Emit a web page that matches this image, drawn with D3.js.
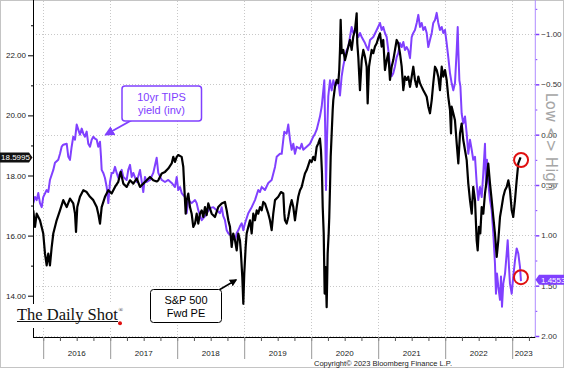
<!DOCTYPE html>
<html><head><meta charset="utf-8">
<script src="https://cdn.jsdelivr.net/npm/d3@7"></script>
<style>body{margin:0;background:#fff}svg{display:block}</style>
</head><body><svg id="c" width="564" height="368"></svg>
<script>
// ---- data (decimal years) ----
const peDates = [2015.852,2015.878,2015.903,2015.952,2016.001,2016.027,2016.052,2016.076,2016.101,2016.127,2016.151,2016.201,2016.251,2016.300,2016.351,2016.400,2016.449,2016.475,2016.490,2016.509,2016.549,2016.599,2016.649,2016.699,2016.748,2016.799,2016.822,2016.848,2016.873,2016.922,2016.972,2017.022,2017.072,2017.121,2017.157,2017.196,2017.246,2017.296,2017.345,2017.396,2017.445,2017.494,2017.545,2017.594,2017.643,2017.694,2017.718,2017.769,2017.818,2017.867,2017.918,2017.942,2017.967,2017.993,2018.016,2018.067,2018.091,2018.106,2018.127,2018.142,2018.166,2018.191,2018.216,2018.240,2018.266,2018.291,2018.315,2018.340,2018.366,2018.390,2018.415,2018.440,2018.464,2018.515,2018.564,2018.613,2018.664,2018.713,2018.739,2018.763,2018.788,2018.813,2018.837,2018.863,2018.888,2018.912,2018.937,2018.952,2018.972,2018.987,2019.001,2019.022,2019.037,2019.061,2019.087,2019.112,2019.136,2019.161,2019.187,2019.210,2019.236,2019.261,2019.285,2019.310,2019.360,2019.385,2019.410,2019.434,2019.460,2019.509,2019.549,2019.584,2019.599,2019.609,2019.634,2019.658,2019.684,2019.709,2019.733,2019.758,2019.784,2019.807,2019.833,2019.858,2019.882,2019.907,2019.933,2019.957,2019.982,2020.007,2020.031,2020.057,2020.082,2020.106,2020.131,2020.146,2020.161,2020.172,2020.187,2020.201,2020.216,2020.231,2020.246,2020.261,2020.270,2020.281,2020.291,2020.306,2020.321,2020.330,2020.355,2020.381,2020.404,2020.419,2020.430,2020.440,2020.455,2020.479,2020.504,2020.530,2020.554,2020.579,2020.604,2020.628,2020.654,2020.679,2020.688,2020.703,2020.728,2020.754,2020.778,2020.803,2020.828,2020.843,2020.863,2020.878,2020.903,2020.927,2020.952,2020.978,2021.001,2021.027,2021.052,2021.076,2021.101,2021.127,2021.151,2021.176,2021.201,2021.225,2021.251,2021.276,2021.300,2021.325,2021.351,2021.375,2021.400,2021.425,2021.449,2021.475,2021.500,2021.524,2021.549,2021.575,2021.599,2021.624,2021.649,2021.673,2021.699,2021.724,2021.748,2021.773,2021.799,2021.822,2021.848,2021.873,2021.897,2021.922,2021.948,2021.972,2021.997,2022.022,2022.046,2022.072,2022.087,2022.097,2022.121,2022.146,2022.172,2022.196,2022.221,2022.246,2022.270,2022.296,2022.321,2022.345,2022.370,2022.396,2022.419,2022.445,2022.470,2022.485,2022.504,2022.524,2022.545,2022.569,2022.594,2022.619,2022.643,2022.669,2022.694,2022.718,2022.743,2022.769,2022.793,2022.818,2022.843,2022.867,2022.893,2022.918,2022.943,2022.967,2022.993,2023.016,2023.042,2023.067,2023.091,2023.125];
const peValues = [16.84,16.29,16.73,16.51,16.07,15.40,15.01,15.40,15.01,15.62,16.07,16.51,16.84,17.18,16.95,17.23,17.07,16.73,16.12,16.95,17.29,17.51,17.45,17.29,17.18,16.95,16.73,16.40,16.95,17.29,17.51,17.40,17.62,17.79,18.12,17.73,17.62,17.84,17.73,17.90,17.62,17.73,17.84,17.95,17.84,17.80,17.84,18.07,18.12,18.23,18.40,18.62,18.45,18.62,18.68,18.62,18.29,17.62,16.73,17.18,17.40,16.95,16.73,16.29,16.40,16.73,16.40,16.73,16.84,16.62,16.95,16.68,17.07,16.73,16.62,16.95,17.07,17.12,16.84,16.51,16.29,15.62,16.07,15.84,15.51,16.07,15.84,15.40,14.62,13.73,14.73,15.62,16.07,16.29,16.51,16.07,16.73,16.51,16.84,16.73,16.95,16.84,17.12,17.07,16.73,16.51,16.18,16.73,17.18,17.29,17.45,17.40,16.73,16.51,16.40,16.62,16.95,17.18,16.95,16.51,16.95,17.29,17.51,17.62,17.84,18.07,18.18,18.34,18.51,18.45,18.62,18.51,18.95,19.07,19.23,18.84,18.07,16.95,16.07,14.07,14.95,13.62,15.40,16.07,16.62,17.62,18.62,19.40,20.18,20.51,20.95,21.18,21.07,21.51,22.18,23.18,22.07,22.18,21.84,22.07,22.29,22.51,22.18,22.62,22.84,23.40,22.40,21.95,20.84,21.84,22.18,21.95,21.62,20.40,21.62,21.84,22.18,22.07,22.29,22.40,22.57,22.73,22.29,22.51,21.51,21.84,22.07,21.18,21.62,21.84,22.18,22.51,22.40,22.07,21.62,20.84,21.29,21.18,21.29,20.95,21.29,21.62,21.18,20.95,21.29,21.07,20.95,20.84,20.73,20.62,20.29,20.07,20.51,21.07,21.62,21.51,21.29,20.84,21.62,21.29,21.51,21.18,20.62,20.18,19.40,20.29,20.07,19.84,19.07,18.40,19.40,19.73,19.18,18.84,18.51,17.73,17.18,16.73,17.62,17.18,15.84,15.51,16.29,16.07,16.95,16.73,17.40,17.84,18.40,17.73,17.18,16.62,16.07,15.29,15.84,16.62,16.95,17.29,17.51,17.62,17.84,17.51,16.84,16.62,17.18,17.84,18.40,18.60];

const tipsDates = [2015.852,2015.878,2015.903,2015.927,2015.952,2015.978,2016.001,2016.052,2016.076,2016.101,2016.151,2016.176,2016.225,2016.251,2016.276,2016.300,2016.351,2016.375,2016.400,2016.425,2016.449,2016.475,2016.500,2016.524,2016.549,2016.575,2016.599,2016.624,2016.649,2016.673,2016.699,2016.724,2016.748,2016.773,2016.799,2016.822,2016.848,2016.863,2016.873,2016.897,2016.922,2016.948,2016.972,2016.997,2017.022,2017.046,2017.072,2017.097,2017.121,2017.146,2017.172,2017.196,2017.246,2017.270,2017.296,2017.321,2017.345,2017.396,2017.445,2017.494,2017.519,2017.545,2017.594,2017.643,2017.694,2017.718,2017.769,2017.818,2017.867,2017.918,2017.967,2017.993,2018.016,2018.042,2018.067,2018.116,2018.142,2018.166,2018.216,2018.266,2018.291,2018.315,2018.366,2018.415,2018.440,2018.490,2018.539,2018.590,2018.639,2018.664,2018.688,2018.713,2018.739,2018.763,2018.813,2018.863,2018.888,2018.912,2018.937,2018.963,2018.987,2019.012,2019.061,2019.112,2019.161,2019.210,2019.236,2019.261,2019.310,2019.360,2019.410,2019.460,2019.485,2019.534,2019.560,2019.584,2019.599,2019.634,2019.658,2019.684,2019.709,2019.733,2019.758,2019.784,2019.833,2019.858,2019.882,2019.933,2019.982,2020.031,2020.057,2020.082,2020.131,2020.157,2020.181,2020.196,2020.210,2020.221,2020.236,2020.255,2020.281,2020.306,2020.330,2020.355,2020.381,2020.404,2020.430,2020.455,2020.479,2020.504,2020.530,2020.554,2020.579,2020.604,2020.628,2020.654,2020.679,2020.703,2020.728,2020.754,2020.778,2020.803,2020.828,2020.852,2020.878,2020.927,2020.978,2021.027,2021.052,2021.076,2021.101,2021.127,2021.151,2021.176,2021.201,2021.225,2021.251,2021.276,2021.300,2021.325,2021.351,2021.375,2021.400,2021.425,2021.449,2021.475,2021.500,2021.524,2021.549,2021.575,2021.599,2021.624,2021.649,2021.673,2021.699,2021.724,2021.748,2021.773,2021.799,2021.822,2021.848,2021.873,2021.897,2021.922,2021.948,2021.972,2021.997,2022.022,2022.046,2022.072,2022.097,2022.121,2022.146,2022.172,2022.187,2022.196,2022.212,2022.227,2022.246,2022.270,2022.296,2022.321,2022.345,2022.370,2022.396,2022.419,2022.445,2022.470,2022.494,2022.519,2022.545,2022.569,2022.594,2022.609,2022.624,2022.643,2022.669,2022.694,2022.718,2022.743,2022.758,2022.773,2022.793,2022.818,2022.833,2022.848,2022.867,2022.893,2022.918,2022.933,2022.952,2022.967,2022.993,2023.016,2023.042,2023.067,2023.091,2023.116,2023.131];
const tipsValues = [0.68,0.62,0.65,0.58,0.68,0.72,0.62,0.55,0.57,0.45,0.35,0.28,0.25,0.19,0.12,0.10,0.09,0.22,0.25,0.12,0.02,0.05,-0.10,-0.05,0.00,-0.06,-0.01,0.02,-0.03,0.09,0.12,0.05,0.02,0.04,0.05,0.12,0.07,0.22,0.35,0.38,0.43,0.52,0.68,0.47,0.38,0.38,0.32,0.38,0.43,0.38,0.35,0.42,0.45,0.35,0.30,0.42,0.38,0.47,0.35,0.57,0.42,0.47,0.45,0.38,0.23,0.38,0.45,0.47,0.45,0.48,0.52,0.42,0.55,0.52,0.58,0.62,0.78,0.65,0.68,0.65,0.68,0.75,0.85,0.81,0.78,0.73,0.72,0.75,0.78,0.72,0.81,0.85,0.95,0.98,1.01,1.05,0.98,0.95,0.91,0.88,0.95,0.88,0.78,0.72,0.65,0.55,0.57,0.52,0.55,0.48,0.45,0.32,0.22,0.19,0.19,0.05,-0.03,-0.01,-0.10,0.05,0.15,0.09,0.19,0.12,0.14,0.09,0.15,0.12,0.09,0.02,-0.01,-0.05,-0.18,-0.28,-0.44,-0.54,-0.01,0.55,0.05,-0.38,-0.54,-0.44,-0.54,-0.48,-0.51,-0.54,-0.39,-0.58,-0.68,-0.77,-0.84,-0.87,-0.97,-1.07,-1.01,-1.04,-1.01,-0.97,-1.01,-0.97,-0.94,-0.91,-0.87,-0.84,-0.94,-0.97,-1.04,-1.11,-1.04,-1.07,-1.01,-0.97,-0.84,-0.68,-0.58,-0.61,-0.68,-0.77,-0.81,-0.91,-0.87,-0.92,-0.84,-0.87,-0.84,-0.76,-0.97,-1.01,-1.04,-1.11,-1.19,-1.07,-1.11,-1.04,-1.07,-1.01,-0.87,-0.94,-1.01,-1.11,-1.14,-1.21,-1.11,-1.04,-1.07,-1.01,-1.04,-0.91,-0.77,-0.61,-0.51,-0.44,-0.51,-0.84,-1.07,-0.84,-0.54,-0.48,-0.21,-0.11,-0.18,-0.01,0.19,0.05,0.15,0.25,0.22,0.48,0.65,0.52,0.62,0.38,0.09,0.52,0.25,0.48,0.65,0.75,0.98,1.28,1.58,1.38,1.51,1.64,1.41,1.71,1.48,1.38,1.18,1.05,1.31,1.48,1.58,1.41,1.25,1.13,1.18,1.31,1.4553];

const leftTicks = [14, 16, 18, 20, 22];
const leftMinorTicks = [15, 17, 19, 21, 23];
const rightTicks = [-1, -0.5, 0, 0.5, 1, 1.5, 2];
const rightMinorTicks = [-1.25, -0.75, -0.25, 0.25, 0.75, 1.25, 1.75];
const yearTicks = [2016, 2017, 2018, 2019, 2020, 2021, 2022, 2023];
const yearLabels = ["2016", "2017", "2018", "2019", "2020", "2021", "2022", "2023"];
const quarterTicks = d3.range(2015.75, 2023.3, 0.25).filter(d => d > 2015.85);
const lastPE = 18.5995;
const lastTips = 1.4553;

// ---- scales ----
const X0 = 33, X1 = 535.3, YB = 337;
const x = d3.scaleLinear().domain([2015.848, 2023.345]).range([X0, X1]);
const yL = d3.scaleLinear().domain([14, 22]).range([295.7, 55.3]);
const yR = d3.scaleLinear().domain([-1, 2]).range([34, 336]);

const PURPLE = "#8040ff";
const svg = d3.select("#c");
const FONT = "Liberation Sans, Arial, sans-serif";

// page border
svg.append("rect").attr("x", 0.5).attr("y", 0.5).attr("width", 563).attr("height", 367)
  .attr("fill", "#fff").attr("stroke", "#c4c4c4");

// grid
const grid = svg.append("g").attr("stroke", "#c8c8c8").attr("stroke-width", 1).attr("stroke-dasharray", "1,2");
grid.selectAll("line.h").data(rightTicks).join("line")
  .attr("x1", X0).attr("x2", X1).attr("y1", d => Math.round(yR(d)) + 0.5).attr("y2", d => Math.round(yR(d)) + 0.5);
grid.selectAll("line.v").data(yearTicks).join("line")
  .attr("y1", 1).attr("y2", YB).attr("x1", d => Math.round(x(d)) + 0.5).attr("x2", d => Math.round(x(d)) + 0.5);

// lines
const clip = svg.append("clipPath").attr("id", "pc").append("rect").attr("x", X0).attr("y", 1).attr("width", X1 - X0).attr("height", YB - 1);
const tipsData = tipsDates.map((d, i) => [d, tipsValues[i]]);
const peData = peDates.map((d, i) => [d, peValues[i]]);
svg.append("path").attr("clip-path", "url(#pc)")
  .attr("d", d3.line().x(d => x(d[0])).y(d => yR(d[1]))(tipsData))
  .attr("fill", "none").attr("stroke", PURPLE).attr("stroke-width", 2).attr("stroke-linejoin", "round");
svg.append("path").attr("clip-path", "url(#pc)")
  .attr("d", d3.line().x(d => x(d[0])).y(d => yL(d[1]))(peData))
  .attr("fill", "none").attr("stroke", "#000").attr("stroke-width", 2.2).attr("stroke-linejoin", "round");

// left axis
const gL = svg.append("g").attr("transform", `translate(${X0},0)`);
gL.call(d3.axisLeft(yL).tickValues(leftTicks).tickFormat(d3.format(".2f")).tickSize(5).tickPadding(2))
  .call(g => g.select(".domain").remove());
gL.selectAll("text").attr("font-family", FONT).attr("font-size", 8).attr("fill", "#222");
gL.append("g").call(d3.axisLeft(yL).tickValues(leftMinorTicks).tickFormat("").tickSize(2))
  .call(g => g.select(".domain").remove());
svg.append("line").attr("x1", X0 + 0.5).attr("x2", X0 + 0.5).attr("y1", 0).attr("y2", YB + 1).attr("stroke", "#000");

// right axis
const gR = svg.append("g").attr("transform", `translate(${X1},0)`);
gR.call(d3.axisRight(yR).tickValues(rightTicks).tickFormat(d3.format(".2f")).tickSize(4).tickPadding(2))
  .call(g => g.select(".domain").remove());
gR.selectAll("line").attr("stroke", PURPLE).attr("stroke-width", 1.5);
gR.selectAll("text").attr("font-family", FONT).attr("font-size", 8).attr("fill", "#333");
gR.append("g").call(d3.axisRight(yR).tickValues(rightMinorTicks).tickFormat("").tickSize(2))
  .call(g => g.select(".domain").remove()).selectAll("line").attr("stroke", PURPLE);
svg.append("line").attr("x1", X1).attr("x2", X1).attr("y1", 0).attr("y2", YB).attr("stroke", "#b08cff").attr("stroke-width", 1);

// bottom axis
svg.append("line").attr("x1", X0).attr("x2", X1).attr("y1", YB + 0.5).attr("y2", YB + 0.5).attr("stroke", "#000");
const gB = svg.append("g").attr("transform", `translate(0,${YB})`);
gB.call(d3.axisBottom(x).tickValues(quarterTicks).tickFormat("").tickSize(4))
  .call(g => g.select(".domain").remove()).selectAll("line").attr("stroke", "#555");
gB.append("g").call(d3.axisBottom(x).tickValues(yearTicks).tickFormat("").tickSize(22))
  .call(g => g.select(".domain").remove()).selectAll("line").attr("stroke", "#999");
const labelPos = yearTicks.map(d => Math.min(d + 0.5, (d + 2023.345) / 2));
svg.append("g").selectAll("text").data(yearLabels).join("text")
  .attr("x", (d, i) => x(labelPos[i])).attr("y", 356)
  .attr("text-anchor", "middle").attr("font-family", FONT).attr("font-size", 8).attr("fill", "#222")
  .text(d => d);
svg.append("text").attr("x", 383).attr("y", 365.5).attr("text-anchor", "middle")
  .attr("font-family", FONT).attr("font-size", 7.5).attr("fill", "#222")
  .text("Copyright© 2023 Bloomberg Finance L.P.");

// right axis title
svg.append("text").attr("transform", "translate(546,142) rotate(90)")
  .attr("text-anchor", "middle").attr("font-family", "DejaVu Sans, sans-serif").attr("font-size", 15)
  .attr("fill", "#a6a6a6").text("Low <> High");

// last value labels
const cyL = yL(lastPE);
svg.append("path").attr("d", `M0,${cyL - 5}H29L32.5,${cyL}L29,${cyL + 5}H0Z`).attr("fill", "#111");
svg.append("text").attr("x", 15.5).attr("y", cyL + 3).attr("text-anchor", "middle")
  .attr("font-family", FONT).attr("font-size", 8).attr("fill", "#fff").text(String(lastPE));
const cyR = yR(lastTips) - 1.5;
svg.append("path").attr("d", `M535.5,${cyR}L539,${cyR - 5}H564V${cyR + 5}H539Z`).attr("fill", PURPLE);
svg.append("text").attr("x", 541).attr("y", cyR + 3)
  .attr("font-family", FONT).attr("font-size", 8).attr("fill", "#fff").text(String(lastTips));

// red circles at the latest points
svg.append("circle").attr("cx", x(peDates[peDates.length - 1]) + 0.5).attr("cy", yL(peValues[peValues.length - 1]) + 2.5).attr("r", 7)
  .attr("fill", "none").attr("stroke", "#e01010").attr("stroke-width", 2);
svg.append("circle").attr("cx", x(tipsDates[tipsDates.length - 1])).attr("cy", yR(tipsValues[tipsValues.length - 1]) - 4).attr("r", 7)
  .attr("fill", "none").attr("stroke", "#e01010").attr("stroke-width", 2);

// arrow markers
const defs = svg.append("defs");
function marker(id, color) {
  defs.append("marker").attr("id", id).attr("viewBox", "0 0 10 10").attr("refX", 8).attr("refY", 5)
    .attr("markerWidth", 5).attr("markerHeight", 5).attr("orient", "auto")
    .append("path").attr("d", "M0,0L10,5L0,10Z").attr("fill", color);
}
marker("ap", PURPLE); marker("ak", "#000");

// TIPS annotation
svg.append("line").attr("x1", 132).attr("y1", 120).attr("x2", 106).attr("y2", 134.5)
  .attr("stroke", PURPLE).attr("stroke-width", 2).attr("marker-end", "url(#ap)");
svg.append("rect").attr("x", 122).attr("y", 86).attr("width", 79.5).attr("height", 35).attr("rx", 3)
  .attr("fill", "#fff").attr("stroke", PURPLE).attr("stroke-width", 1.5);
svg.append("text").attr("x", 161.5).attr("y", 100.5).attr("text-anchor", "middle").attr("font-family", FONT)
  .attr("font-size", 11).attr("fill", PURPLE).text("10yr TIPS");
svg.append("text").attr("x", 161.5).attr("y", 114).attr("text-anchor", "middle").attr("font-family", FONT)
  .attr("font-size", 11).attr("fill", PURPLE).text("yield (inv)");

// S&P annotation
svg.append("line").attr("x1", 219).attr("y1", 290).attr("x2", 236).attr("y2", 280)
  .attr("stroke", "#000").attr("stroke-width", 1.5).attr("marker-end", "url(#ak)");
svg.append("rect").attr("x", 150.5).attr("y", 289.5).attr("width", 71).attr("height", 33).attr("rx", 3)
  .attr("fill", "#fff").attr("stroke", "#000").attr("stroke-width", 1);
svg.append("text").attr("x", 186).attr("y", 303.5).attr("text-anchor", "middle").attr("font-family", FONT)
  .attr("font-size", 11).attr("fill", "#000").text("S&P 500");
svg.append("text").attr("x", 186).attr("y", 316.5).attr("text-anchor", "middle").attr("font-family", FONT)
  .attr("font-size", 11).attr("fill", "#000").text("Fwd PE");

// logo
svg.append("rect").attr("x", 14).attr("y", 304).attr("width", 112).attr("height", 24).attr("fill", "#fff");
svg.append("text").attr("x", 17).attr("y", 319.5).attr("font-family", "Liberation Serif, Times New Roman, serif")
  .attr("font-size", 16.5).attr("fill", "#111").text("The Daily Shot");
svg.append("text").attr("x", 118.5).attr("y", 312).attr("font-family", "Liberation Serif, serif")
  .attr("font-size", 6).attr("fill", "#111").text("®");
svg.append("line").attr("x1", 17).attr("x2", 118).attr("y1", 321.5).attr("y2", 321.5).attr("stroke", "#111").attr("stroke-width", 1);
svg.append("circle").attr("cx", 120).attr("cy", 323.3).attr("r", 2).attr("fill", "#e01010");
</script></body></html>
